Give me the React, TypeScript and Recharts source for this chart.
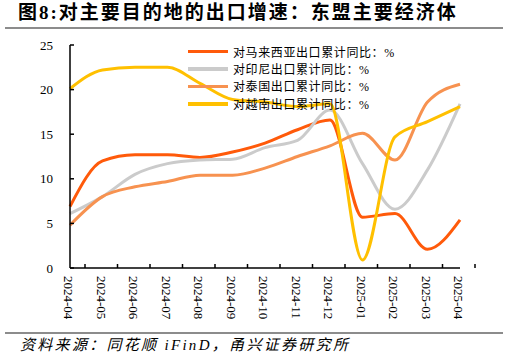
import React from "react";
import { Line, LineChart, XAxis, YAxis } from "recharts";

const months = [
  "2024-04", "2024-05", "2024-06", "2024-07", "2024-08", "2024-09", "2024-10",
  "2024-11", "2024-12", "2025-01", "2025-02", "2025-03", "2025-04",
];
const malaysia = [6.9, 12.0, 12.7, 12.7, 12.4, 13.0, 14.0, 15.5, 16.6, 5.7, 6.1, 2.1, 5.4];
const indonesia = [6.1, 8.0, 10.5, 11.7, 12.1, 12.2, 13.5, 14.3, 17.7, 11.7, 6.6, 11.0, 18.4];
const thailand = [4.8, 8.0, 9.1, 9.7, 10.4, 10.4, 11.2, 12.5, 13.7, 15.1, 12.1, 18.6, 20.6];
const vietnam = [20.1, 22.2, 22.5, 22.5, 20.7, 18.9, 18.6, 18.1, 18.4, 0.9, 14.7, 16.4, 18.1];
const yTicks = [0, 5, 10, 15, 20, 25];

const series = [
  { key: "my", name: "对马来西亚出口累计同比：%", color: "#FF5A0A" },
  { key: "id", name: "对印尼出口累计同比：%", color: "#CBCBCB" },
  { key: "th", name: "对泰国出口累计同比：%", color: "#F79250" },
  { key: "vn", name: "对越南出口累计同比：%", color: "#FFC000" },
];

const data = months.map((m, i) => ({
  month: m,
  my: malaysia[i],
  id: indonesia[i],
  th: thailand[i],
  vn: vietnam[i],
}));

const serif = '"Liberation Serif", "Noto Sans CJK SC", serif';

const XTick = (props: any) => {
  const { x, y, payload } = props;
  const tx = x - 6;
  const ty = y + 8;
  return (
    <g>
      <line x1={x + 15} y1={y} x2={x + 15} y2={y - 4} stroke="#000" strokeWidth={1.5} />
      <text
        x={tx}
        y={ty}
        transform={`rotate(90, ${tx}, ${ty})`}
        textAnchor="start"
        fontSize={13}
        fontFamily={serif}
        fill="#000"
      >
        {payload.value}
      </text>
    </g>
  );
};

const YTick = (props: any) => {
  const { x, y, payload } = props;
  return (
    <g>
      <line x1={x} y1={y} x2={x + 4} y2={y} stroke="#000" strokeWidth={1.5} />
      <text x={x - 17} y={y} dy={4.5} textAnchor="end" fontSize={13} fontFamily={serif} fill="#000">
        {payload.value}
      </text>
    </g>
  );
};

export default function App() {
  return (
    <div style={{ position: "absolute", left: 0, top: 0, width: 509, height: 360, background: "#fff" }}>
      <div
        style={{
          position: "absolute",
          left: 18,
          top: 1,
          fontSize: 19,
          lineHeight: "24px",
          fontWeight: 700,
          letterSpacing: 2,
          fontFamily: serif,
          color: "#000",
          whiteSpace: "nowrap",
        }}
      >
        图8:对主要目的地的出口增速：东盟主要经济体
      </div>
      <div style={{ position: "absolute", left: 5, top: 27, width: 498, height: 2, background: "#8c8c8c" }} />
      <div style={{ position: "absolute", left: 0, top: 0 }}>
        <LineChart width={509} height={330} data={data} margin={{ top: 45, right: 49, left: 0, bottom: 0 }}>
          <XAxis
            dataKey="month"
            height={62}
            interval={0}
            tickSize={0}
            tickMargin={0}
            tickLine={false}
            axisLine={{ stroke: "#000", strokeWidth: 1.5 }}
            tick={<XTick />}
          />
          <YAxis
            width={70}
            domain={[0, 25]}
            ticks={yTicks}
            tickSize={0}
            tickMargin={0}
            tickLine={false}
            axisLine={{ stroke: "#000", strokeWidth: 1.5 }}
            tick={<YTick />}
          />
          {series.map((s) => (
            <Line
              key={s.key}
              type="monotone"
              dataKey={s.key}
              name={s.name}
              stroke={s.color}
              strokeWidth={3}
              dot={false}
              isAnimationActive={false}
            />
          ))}
        </LineChart>
      </div>
      <div style={{ position: "absolute", left: 188, top: 43 }}>
        {series.map((s) => (
          <div key={s.key} style={{ display: "flex", alignItems: "center", height: 17.4 }}>
            <div style={{ width: 40, height: 3.5, background: s.color, marginRight: 5 }} />
            <span style={{ fontSize: 12, letterSpacing: 0.6, fontFamily: serif, color: "#000", whiteSpace: "nowrap" }}>
              {s.name}
            </span>
          </div>
        ))}
      </div>
      <div style={{ position: "absolute", left: 5, top: 332, width: 498, height: 2, background: "#8c8c8c" }} />
      <div
        style={{
          position: "absolute",
          left: 20,
          top: 335,
          fontSize: 15,
          lineHeight: "20px",
          fontStyle: "italic",
          letterSpacing: 2.3,
          fontFamily: serif,
          color: "#000",
          whiteSpace: "nowrap",
        }}
      >
        资料来源：同花顺 iFinD，甬兴证券研究所
      </div>
    </div>
  );
}
